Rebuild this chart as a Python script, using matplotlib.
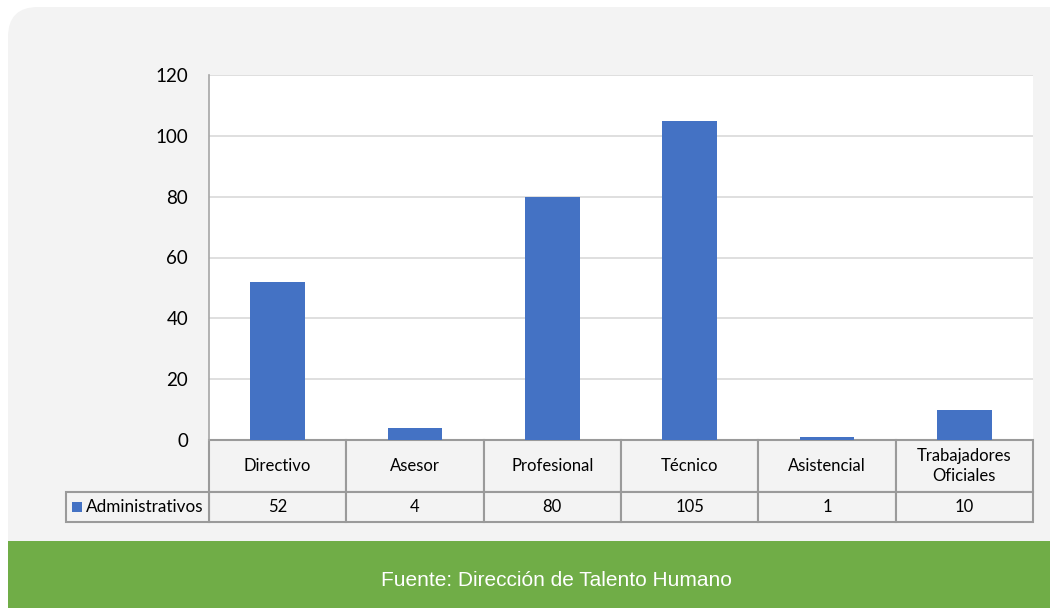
import matplotlib
matplotlib.use("Agg")
import matplotlib.pyplot as plt
from matplotlib.patches import FancyBboxPatch, Rectangle
from matplotlib.transforms import IdentityTransform, blended_transform_factory

categories = ["Directivo", "Asesor", "Profesional", "Técnico", "Asistencial", "Trabajadores\nOficiales"]
values = [52, 4, 80, 105, 1, 10]
series_name = "Administrativos"
yticks = [0, 20, 40, 60, 80, 100, 120]
source = "Fuente: Dirección de Talento Humano"

W, H = 1050, 609
fig = plt.figure(figsize=(W / 100, H / 100), dpi=100)
fig.patch.set_facecolor("white")

FONT = ["Lato", "DejaVu Sans"]
BAR = "#4472c4"
PANEL = "#f3f3f3"
GREEN = "#70ad47"
BORDER = "#9a9a9a"

# panel background (pixel coords, origin bottom-left)
panel = FancyBboxPatch((8, 40), 1100, H - 7 - 40, boxstyle="round,pad=0,rounding_size=30",
                       transform=IdentityTransform(), facecolor=PANEL, edgecolor="none", zorder=-3)
fig.patches.append(panel)
green = Rectangle((8, 1), W, 68 - 1, transform=IdentityTransform(), facecolor=GREEN,
                  edgecolor="none", zorder=-2)
fig.patches.append(green)
fig.text(556 / W, 29 / H, source, ha="center", va="center", color="white", fontsize=15,
         family=["Liberation Sans Narrow", "Liberation Sans", "DejaVu Sans"])

# axes
x0, x1, ytop, ybot = 209, 1033, 75, 440
ax = fig.add_axes([x0 / W, 1 - ybot / H, (x1 - x0) / W, (ybot - ytop) / H])
ax.set_zorder(1)
ax.set_facecolor("white")
xs = list(range(len(categories)))
ax.bar(xs, values, width=0.4, color=BAR, zorder=3)
ax.set_xlim(-0.5, len(categories) - 0.5)
ax.set_ylim(0, 120)
ax.set_yticks(yticks)
ax.set_yticklabels([str(t) for t in yticks], fontsize=13.5, family=FONT)
ax.tick_params(axis="y", length=0, pad=15)
ax.set_xticks([])
ax.grid(axis="y", color="#d9d9d9", linewidth=1.2, zorder=0)
for s in ["top", "right", "bottom"]:
    ax.spines[s].set_visible(False)
ax.spines["left"].set_color("#a6a6a6")
ax.spines["left"].set_linewidth(1.2)

# data table below axes
tr = blended_transform_factory(ax.transData, ax.transAxes)
ph = ybot - ytop
r1 = -52 / ph
r2 = -82 / ph
for i, (c, v) in enumerate(zip(categories, values)):
    ax.add_patch(Rectangle((i - 0.5, r1), 1, -r1, transform=tr, facecolor=PANEL,
                           edgecolor=BORDER, linewidth=1.5, clip_on=False, zorder=2))
    ax.add_patch(Rectangle((i - 0.5, r2), 1, r1 - r2, transform=tr, facecolor=PANEL,
                           edgecolor=BORDER, linewidth=1.5, clip_on=False, zorder=2))
    ax.text(i, r1 / 2, c, transform=tr, ha="center", va="center", fontsize=12,
            family=FONT, linespacing=1.38, clip_on=False, zorder=4)
    ax.text(i, (r1 + r2) / 2, str(v), transform=tr, ha="center", va="center", fontsize=12,
            family=FONT, clip_on=False, zorder=4)

# legend cell
lx0 = 66
fig.patches.append(Rectangle((lx0, H - 522), x0 - lx0, 30, transform=IdentityTransform(),
                             facecolor=PANEL, edgecolor=BORDER, linewidth=1.5, zorder=2))
fig.patches.append(Rectangle((72, H - 512), 10, 10, transform=IdentityTransform(),
                             facecolor=BAR, edgecolor="none", zorder=3))
fig.text(86 / W, 1 - 507 / H, series_name, ha="left", va="center", fontsize=12.3, family=FONT,
         zorder=4)

fig.savefig("out.png", dpi=100, facecolor=fig.get_facecolor())
